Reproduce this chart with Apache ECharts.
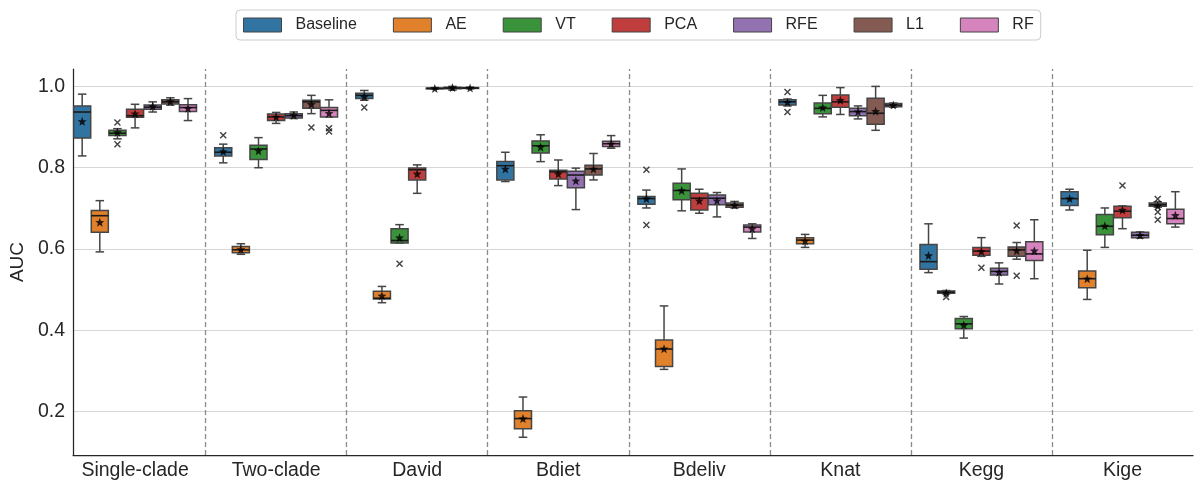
<!DOCTYPE html>
<html>
<head>
<meta charset="utf-8">
<script src="https://cdn.jsdelivr.net/npm/echarts@6/dist/echarts.min.js"></script>
<style>html,body{margin:0;padding:0;background:#fff}#c{width:1195px;height:481px}</style>
</head>
<body>
<div id="c"></div>
<script>
// ---- data ----
const categories = ['Single-clade','Two-clade','David','Bdiet','Bdeliv','Knat','Kegg','Kige'];
const methods = ['Baseline','AE','VT','PCA','RFE','L1','RF'];
const yTicks = [0.2, 0.4, 0.6, 0.8, 1.0];

// [min, q1, median, q3, max] per dataset
const statsBaseline = [[0.829,0.873,0.937,0.952,0.981],[0.812,0.829,0.838,0.849,0.858],[0.966,0.970,0.978,0.983,0.990],[0.766,0.770,0.805,0.815,0.838],[0.701,0.710,0.724,0.729,0.745],[0.952,0.954,0.962,0.967,0.969],[0.542,0.550,0.569,0.611,0.662],[0.696,0.707,0.724,0.741,0.747]];
const statsAE = [[0.593,0.641,0.682,0.695,0.719],[0.587,0.591,0.598,0.606,0.613],[0.468,0.477,0.479,0.496,0.508],[0.137,0.158,0.183,0.202,0.236],[0.304,0.311,0.354,0.376,0.460],[0.604,0.613,0.622,0.628,0.636],[0.490,0.491,0.494,0.497,0.498],[0.476,0.505,0.527,0.546,0.597]];
const statsVT = [[0.871,0.879,0.885,0.892,0.896],[0.800,0.820,0.846,0.855,0.874],[0.615,0.615,0.621,0.650,0.660],[0.815,0.836,0.854,0.866,0.881],[0.694,0.721,0.744,0.762,0.797],[0.925,0.933,0.946,0.959,0.978],[0.381,0.404,0.416,0.429,0.434],[0.604,0.635,0.656,0.685,0.701]];
const statsPCA = [[0.898,0.924,0.928,0.944,0.956],[0.909,0.916,0.925,0.932,0.936],[0.737,0.770,0.795,0.799,0.807],[0.756,0.772,0.790,0.794,0.819],[0.688,0.696,0.725,0.737,0.747],[0.931,0.949,0.962,0.979,0.997],[0.582,0.585,0.595,0.604,0.628],[0.650,0.677,0.693,0.705,0.706]];
const statsRFE = [[0.937,0.944,0.949,0.954,0.962],[0.921,0.922,0.928,0.933,0.937],[0.993,0.994,0.995,0.996,0.997],[0.697,0.751,0.782,0.791,0.799],[0.679,0.709,0.725,0.733,0.739],[0.920,0.928,0.938,0.946,0.952],[0.514,0.536,0.545,0.553,0.566],[0.627,0.628,0.634,0.641,0.642]];
const statsL1 = [[0.954,0.957,0.962,0.967,0.972],[0.933,0.946,0.962,0.966,0.978],[0.991,0.994,0.996,0.998,1.000],[0.770,0.782,0.797,0.806,0.835],[0.701,0.703,0.708,0.713,0.717],[0.892,0.907,0.934,0.971,1.000],[0.575,0.582,0.598,0.605,0.616],[0.703,0.705,0.709,0.713,0.716]];
const statsRF = [[0.916,0.938,0.948,0.955,0.970],[0.925,0.925,0.941,0.948,0.967],[0.994,0.995,0.996,0.997,0.998],[0.848,0.852,0.859,0.865,0.879],[0.626,0.642,0.654,0.659,0.662],[0.949,0.950,0.954,0.958,0.959],[0.527,0.572,0.588,0.618,0.672],[0.654,0.662,0.675,0.698,0.741]];

// means per dataset
const meanBaseline = [0.914,0.840,0.975,0.797,0.724,0.961,0.584,0.724];
const meanAE = [0.666,0.599,0.485,0.183,0.355,0.620,0.492,0.527];
const meanVT = [0.887,0.842,0.628,0.851,0.744,0.948,0.413,0.657];
const meanPCA = [0.933,0.925,0.785,0.785,0.719,0.966,0.594,0.696];
const meanRFE = [0.951,0.929,0.995,0.768,0.719,0.938,0.543,0.634];
const meanL1 = [0.963,0.956,0.997,0.797,0.708,0.939,0.596,0.706];
const meanRF = [0.946,0.934,0.996,0.859,0.650,0.954,0.596,0.683];

// outliers per dataset
const outBaseline = [[],[0.880],[0.948],[],[0.795,0.659],[0.986,0.937],[],[]];
const outAE = [[],[],[],[],[],[],[0.482],[]];
const outVT = [[0.911,0.858],[],[0.564],[],[],[],[],[]];
const outPCA = [[],[],[],[],[],[],[0.554],[0.756]];
const outRFE = [[],[],[],[],[],[],[],[]];
const outL1 = [[],[0.899],[],[],[],[],[0.658,0.534],[0.723,0.691,0.672]];
const outRF = [[],[0.897,0.889],[],[],[],[],[],[]];

const colors = ['#3274a1','#e1812c','#3a923a','#c03d3e','#9372b2','#845b53','#d684bd'];

// ---- build ----
const allStats = [statsBaseline,statsAE,statsVT,statsPCA,statsRFE,statsL1,statsRF];
const allMeans = [meanBaseline,meanAE,meanVT,meanPCA,meanRFE,meanL1,meanRF];
const allOut = [outBaseline,outAE,outVT,outPCA,outRFE,outL1,outRF];

const SLOT = 0.125, BOX_W = 0.121;
const EDGE = '#454545';
const FONT = 'Liberation Sans, Arial, sans-serif';

function xPos(g, m) { return g + (m - 3) * SLOT; }

function starPath() {
  const p = [];
  for (let k = 0; k < 10; k++) {
    const r = k % 2 ? 0.42 : 1;
    const a = -Math.PI / 2 + k * Math.PI / 5;
    p.push((50 + 50 * r * Math.cos(a)).toFixed(2) + ',' + (50 + 50 * r * Math.sin(a)).toFixed(2));
  }
  return 'path://M' + p.join('L') + 'Z';
}

function renderBox(params, api) {
  const x = api.value(0);
  const yMin = api.coord([x, api.value(1)])[1];
  const yQ1 = api.coord([x, api.value(2)])[1];
  const yMed = api.coord([x, api.value(3)])[1];
  const yQ3 = api.coord([x, api.value(4)])[1];
  const yMax = api.coord([x, api.value(5)])[1];
  const cx = api.coord([x, api.value(3)])[0];
  const w = api.size([BOX_W, 0])[0];
  const cw = w / 4;
  const ls = { stroke: EDGE, lineWidth: 1.5 };
  return {
    type: 'group',
    children: [
      { type: 'line', shape: { x1: cx, y1: yQ3, x2: cx, y2: yMax }, style: ls },
      { type: 'line', shape: { x1: cx, y1: yQ1, x2: cx, y2: yMin }, style: ls },
      { type: 'line', shape: { x1: cx - cw, y1: yMax, x2: cx + cw, y2: yMax }, style: ls },
      { type: 'line', shape: { x1: cx - cw, y1: yMin, x2: cx + cw, y2: yMin }, style: ls },
      { type: 'rect', shape: { x: cx - w / 2, y: yQ3, width: w, height: Math.max(yQ1 - yQ3, 0.5) },
        style: { fill: api.visual('color'), stroke: EDGE, lineWidth: 1.5 } },
      { type: 'line', shape: { x1: cx - w / 2, y1: yMed, x2: cx + w / 2, y2: yMed }, style: { stroke: '#1a1a1a', lineWidth: 1.6 } }
    ]
  };
}

const series = [];
methods.forEach((name, m) => {
  series.push({
    name: name,
    type: 'custom',
    renderItem: renderBox,
    itemStyle: { color: colors[m] },
    encode: { x: 0, y: [1, 2, 3, 4, 5] },
    data: allStats[m].map((s, g) => [xPos(g, m)].concat(s)),
    z: 3
  });
});

const outData = [];
allOut.forEach((arr, m) => arr.forEach((vals, g) => vals.forEach(v => outData.push([xPos(g, m), v]))));
series.push({
  name: 'outliers',
  type: 'scatter',
  symbol: 'path://M0,0L10,10M10,0L0,10',
  symbolSize: 6,
  itemStyle: { color: 'rgba(0,0,0,0)', borderColor: '#111', borderWidth: 1.4 },
  data: outData,
  z: 5,
  silent: true
});

const meanData = [];
allMeans.forEach((arr, m) => arr.forEach((v, g) => meanData.push([xPos(g, m), v])));
series.push({
  name: 'means',
  type: 'scatter',
  symbol: starPath(),
  symbolSize: 9,
  itemStyle: { color: '#000' },
  data: meanData,
  z: 6,
  silent: true,
  markLine: {
    silent: true,
    symbol: 'none',
    label: { show: false },
    lineStyle: { color: '#8a8a8a', type: [5, 3], width: 1.3 },
    data: [0.5, 1.5, 2.5, 3.5, 4.5, 5.5, 6.5].map(v => ({ xAxis: v }))
  }
});

const chart = echarts.init(document.getElementById('c'), null, { renderer: 'canvas' });
chart.setOption({
  animation: false,
  backgroundColor: '#fff',
  textStyle: { fontFamily: FONT },
  legend: {
    data: methods,
    left: 236,
    top: 10,
    icon: 'rect',
    itemWidth: 38,
    itemHeight: 14,
    itemGap: 36,
    padding: [7, 7],
    borderColor: '#cccccc',
    borderWidth: 1,
    borderRadius: 4,
    itemStyle: { borderColor: '#444', borderWidth: 1 },
    textStyle: { fontFamily: FONT, fontSize: 16, color: '#262626', padding: [0, 0, 0, 9] }
  },
  grid: { left: 71, right: 2, top: 69, bottom: 26, containLabel: false },
  xAxis: {
    type: 'value',
    min: -0.44,
    max: 7.5,
    axisLine: { show: true, onZero: false, lineStyle: { color: '#262626', width: 1.25 } },
    axisTick: { show: false, customValues: [0, 1, 2, 3, 4, 5, 6, 7] },
    splitLine: { show: false },
    axisLabel: {
      customValues: [0, 1, 2, 3, 4, 5, 6, 7],
      formatter: v => categories[Math.round(v)],
      fontSize: 19.5, color: '#262626', fontFamily: FONT, margin: 6
    }
  },
  yAxis: {
    type: 'value',
    min: 0.0934,
    max: 1.0428,
    name: 'AUC',
    nameLocation: 'middle',
    nameGap: 45,
    nameRotate: 90,
    nameTextStyle: { fontSize: 19, color: '#262626', fontFamily: FONT },
    axisLine: { show: true, onZero: false, lineStyle: { color: '#262626', width: 1.25 } },
    axisTick: { show: false, customValues: yTicks },
    splitLine: { show: true, lineStyle: { color: '#d6d6d6', width: 1 } },
    axisLabel: {
      customValues: yTicks,
      formatter: v => v.toFixed(1),
      fontSize: 19.5, color: '#262626', fontFamily: FONT, margin: 8
    }
  },
  series: series
});
</script>
</body>
</html>
